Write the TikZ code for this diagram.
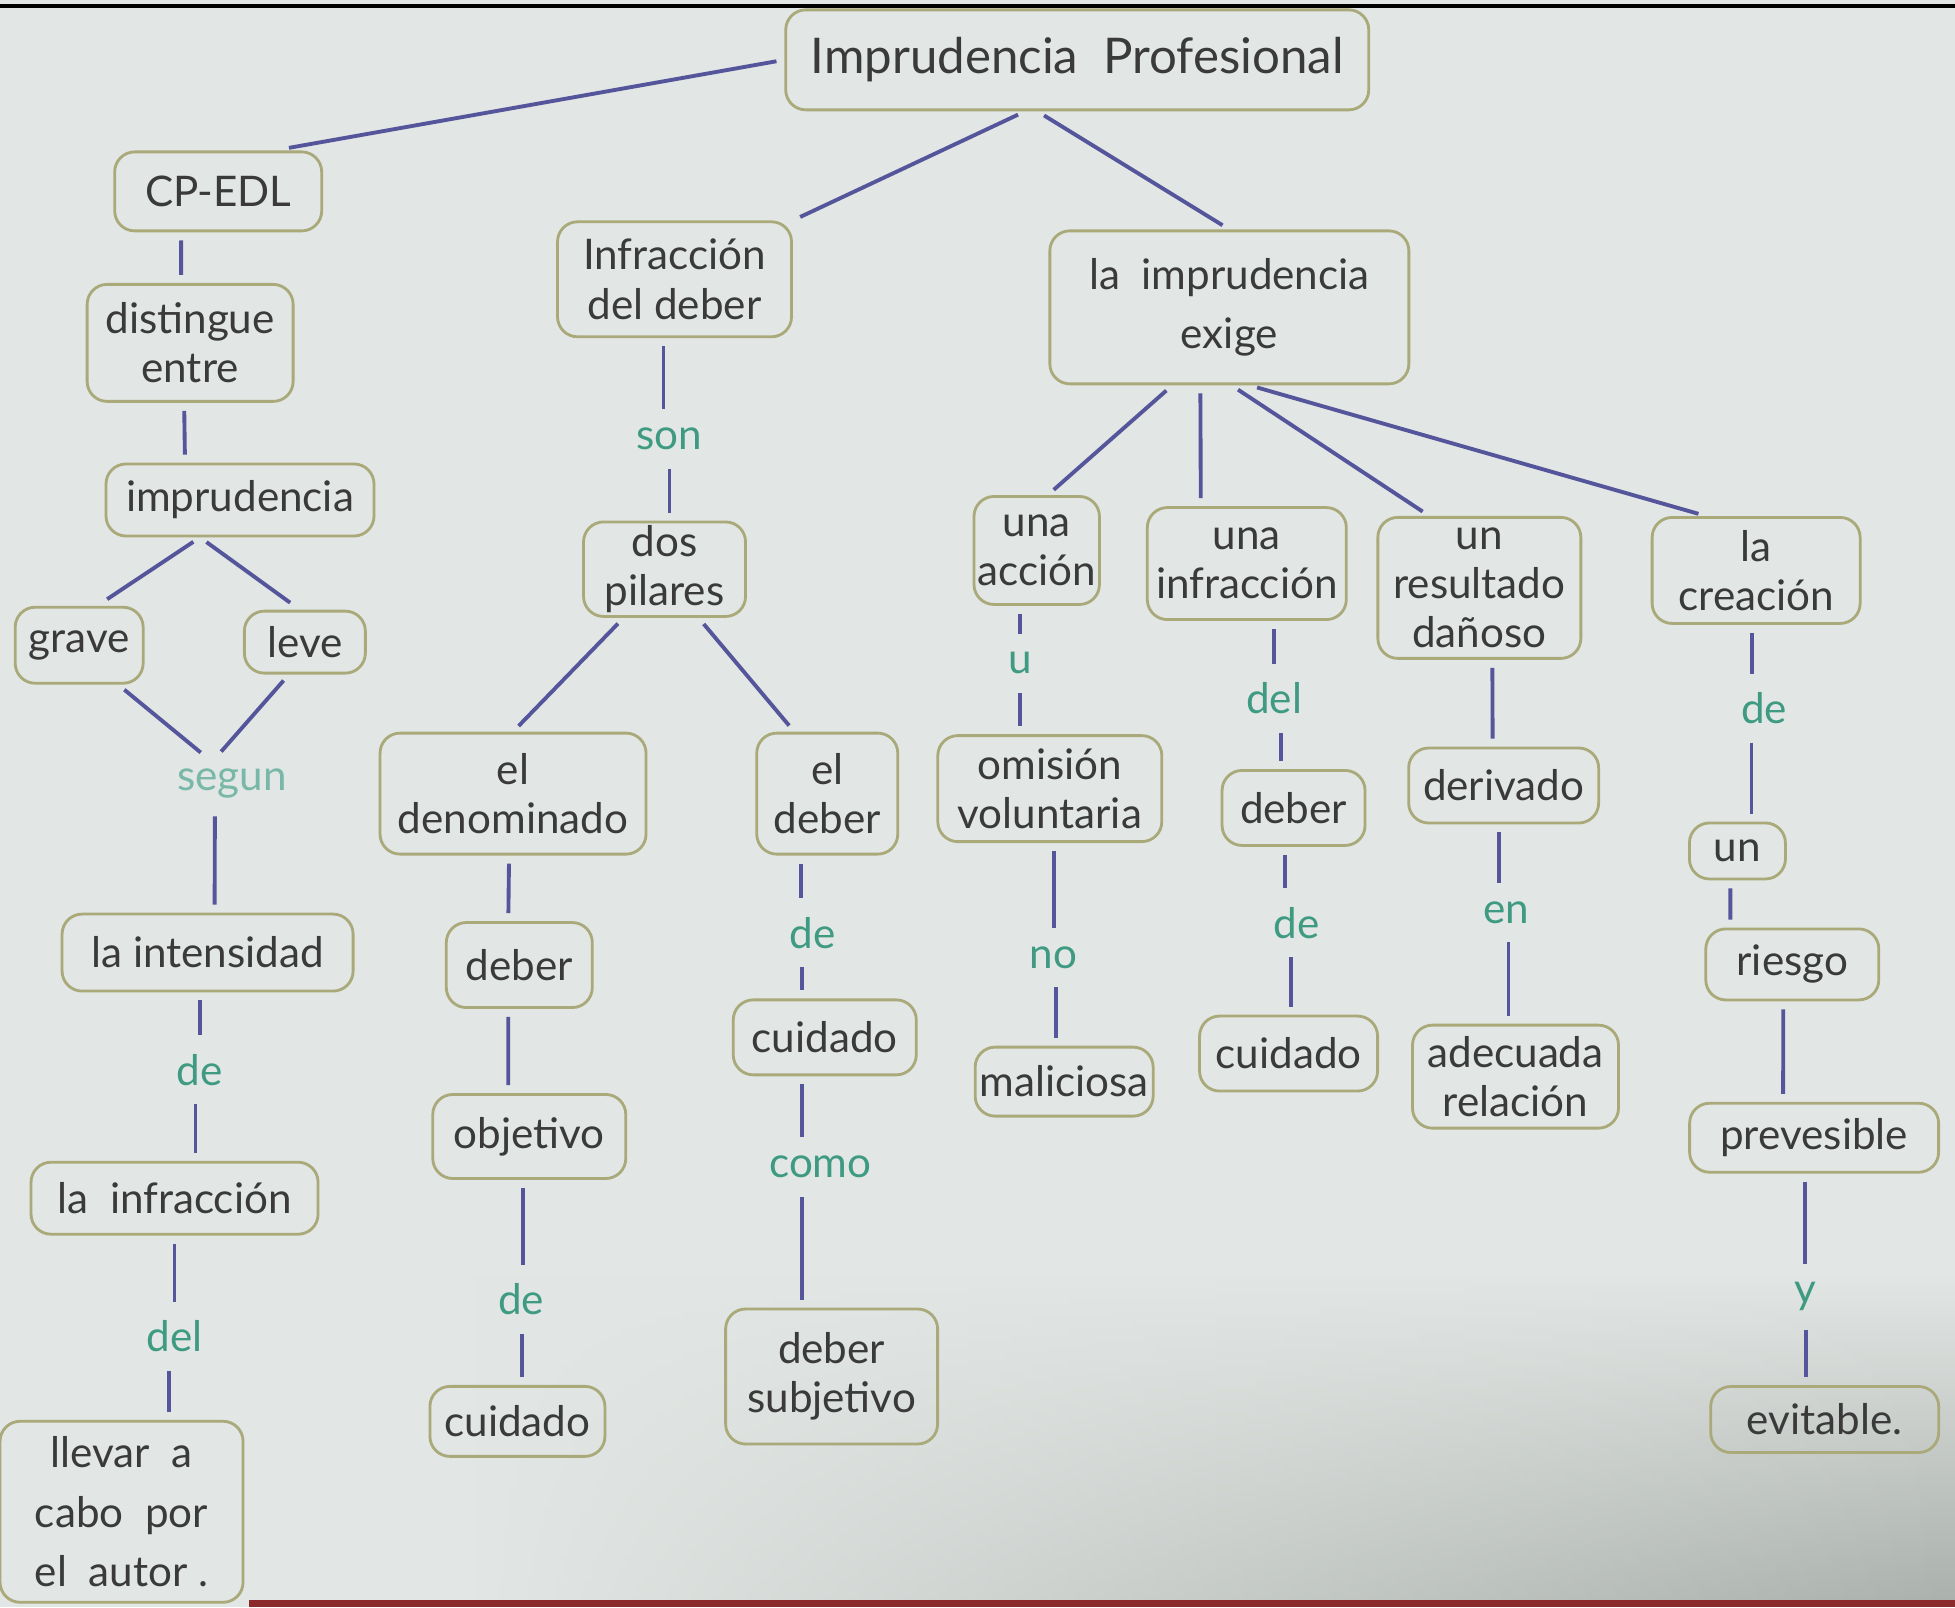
\documentclass[tikz,border=0pt]{standalone}
\usepackage{fontspec}
\setmainfont{Lato}
\usetikzlibrary{fadings}
\definecolor{paper}{HTML}{E2E6E4}
\definecolor{shade}{HTML}{ABB1AD}
\definecolor{boxline}{HTML}{A9A97A}
\definecolor{linkblue}{HTML}{55559C}
\definecolor{wordgreen}{HTML}{3F9A82}
\definecolor{ink}{HTML}{3A3A3A}
\definecolor{cloth}{HTML}{8A2A2A}

\begin{document}
\begin{tikzpicture}[x=0.12468mm,y=-0.12468mm,
	box/.style={draw=boxline,line width=0.8pt,rounded corners=2mm,align=center,text=ink,font=\fontsize{12}{14}\selectfont,inner sep=1pt},
	link/.style={draw=linkblue,line width=1.1pt,shorten <=0.8mm,shorten >=0.8mm},
	word/.style={text=wordgreen,font=\fontsize{12}{14}\selectfont,inner sep=1mm}]
	\useasboundingbox (0,0) rectangle (1568,1289);
	\fill[paper] (0,0) rectangle (1568,1289);
	\shade[top color=paper,bottom color=shade,path fading=west] (380,1020) rectangle (1568,1283);
	\fill[cloth] (200,1283) rectangle (1568,1289);
	\draw[line width=0.4mm] (0,5) -- (1568,5);

	\node[box,minimum width=58.3mm,minimum height=10mm,font=\fontsize{14}{17}\selectfont] (title) at (864,48) {Imprudencia\ \ Profesional};

	\node[box,minimum width=20.7mm,minimum height=7.9mm] (cpedl) at (175,153.5) {CP-EDL};
	\node[box,minimum width=20.6mm,minimum height=11.7mm] (distingue) at (152.5,275) {distingue\\entre};
	\node[box,minimum width=26.8mm,minimum height=7.2mm] (impru) at (192.5,401) {imprudencia};
	\node[box,minimum width=12.8mm,minimum height=7.6mm] (grave) at (63.5,517.5) {grave};
	\node[box,minimum width=12.1mm,minimum height=6.2mm] (leve) at (244.5,515) {leve};
	\node[word,text=wordgreen!70] (segun) at (186,628) {segun};
	\node[box,minimum width=29.1mm,minimum height=7.7mm] (intens) at (166.5,764) {la intensidad};
	\node[word] (de1) at (160,858) {de};
	\node[box,minimum width=28.7mm,minimum height=7.2mm] (lainfr) at (140,961) {la\ \ infracción};
	\node[word] (del1) at (140,1072) {del};
	\node[box,minimum width=24.3mm,minimum height=18.1mm,font=\fontsize{12}{17}\selectfont] (llevar) at (97.5,1212.5) {llevar\ \ a\\cabo\ \ por\\el\ \ autor .};

	\node[box,minimum width=23.4mm,minimum height=11.5mm] (infdeber) at (541,224) {Infracción\\del deber};
	\node[word] (son) at (537,352) {son};
	\node[box,minimum width=16.2mm,minimum height=9.1mm] (pilares) at (533,456.5) {dos\\pilares};
	\node[box,minimum width=26.6mm,minimum height=12.1mm] (denom) at (411.5,636.5) {el\\denominado};
	\node[box,minimum width=14.1mm,minimum height=12.1mm] (eldeber) at (663.5,636.5) {el\\deber};
	\node[box,minimum width=14.6mm,minimum height=8.5mm] (debera) at (416.5,774) {deber};
	\node[box,minimum width=19.3mm,minimum height=8.4mm] (objetivo) at (424.5,911.5) {objetivo};
	\node[word] (de3) at (418,1042) {de};
	\node[box,minimum width=17.5mm,minimum height=7mm] (cuida) at (415,1140) {cuidado};
	\node[word] (de2) at (652,748) {de};
	\node[box,minimum width=18.3mm,minimum height=7.5mm] (cuidb) at (661.5,832) {cuidado};
	\node[word] (como) at (658,936) {como};
	\node[box,minimum width=21.2mm,minimum height=13.5mm] (subj) at (667,1104) {deber\\subjetivo};

	\node[box,minimum width=35.9mm,minimum height=15.3mm,font=\fontsize{12}{17}\selectfont] (exige) at (986,246.5) {la\ \ imprudencia\\exige};
	\node[box,minimum width=11.6mm,minimum height=10.8mm] (accion) at (831.5,441.5) {una\\acción};
	\node[word] (u) at (818,532) {u};
	\node[box,minimum width=22.4mm,minimum height=10.6mm] (omision) at (842,632.5) {omisión\\voluntaria};
	\node[word] (no) at (845,768) {no};
	\node[box,minimum width=17.8mm,minimum height=6.9mm] (malic) at (853.5,867.5) {maliciosa};
	\node[box,minimum width=19.9mm,minimum height=11.2mm] (infrb) at (1000,452) {una\\infracción};
	\node[word] (del2) at (1022,560) {del};
	\node[box,minimum width=14.3mm,minimum height=7.5mm] (deberc) at (1037.5,648) {deber};
	\node[word] (de4) at (1040,740) {de};
	\node[box,minimum width=17.8mm,minimum height=7.5mm] (cuidc) at (1033.5,845) {cuidado};
	\node[box,minimum width=20.3mm,minimum height=14.1mm] (result) at (1186.5,471.5) {un\\resultado\\dañoso};
	\node[box,minimum width=19mm,minimum height=7.5mm] (deriv) at (1206,630) {derivado};
	\node[word] (en) at (1208,732) {en};
	\node[box,minimum width=20.6mm,minimum height=10.3mm] (adec) at (1215.5,863.5) {adecuada\\relación};
	\node[box,minimum width=20.8mm,minimum height=10.6mm] (creac) at (1408.5,457.5) {la\\creación};
	\node[word] (de5) at (1415,568) {de};
	\node[box,minimum width=9.6mm,minimum height=5.6mm] (un) at (1393.5,682.5) {un};
	\node[box,minimum width=17.3mm,minimum height=7.1mm] (riesgo) at (1437.5,773.5) {riesgo};
	\node[box,minimum width=24.9mm,minimum height=6.9mm] (prev) at (1455,912.5) {prevesible};
	\node[word] (y) at (1448,1040) {y};
	\node[box,minimum width=22.8mm,minimum height=6.6mm] (evit) at (1463.5,1138.5) {evitable.};

	\draw[link,shorten >=1.5mm] (title.west) -- ([xshift=5.6mm]cpedl.north);
	\draw[link] ([xshift=-5.2mm]title.south) -- (infdeber.north east);
	\draw[link] ([xshift=-4mm]title.south) -- (exige.north);

	\draw[link] ([xshift=-3.7mm]cpedl.south) -- ([xshift=-0.9mm]distingue.north);
	\draw[link] ([xshift=-0.6mm]distingue.south) -- ([xshift=-5.5mm]impru.north);
	\draw[link,shorten >=1.2mm] ([xshift=-4mm]impru.south) -- ([xshift=1.8mm]grave.north);
	\draw[link,shorten >=1.2mm] ([xshift=-4mm]impru.south) -- ([xshift=-0.5mm]leve.north);
	\draw[link] ([xshift=3.9mm]grave.south) -- ([xshift=-2.5mm]segun.north);
	\draw[link] ([xshift=-1.6mm]leve.south) -- ([xshift=-1.6mm]segun.north);
	\draw[link] ([xshift=-1.7mm]segun.south) -- ([xshift=0.7mm]intens.north);
	\draw[link] ([xshift=-0.8mm]intens.south) -- ([xshift=-0.8mm]intens.south |- de1.north);
	\draw[link] ([xshift=2.1mm]lainfr.north |- de1.south) -- ([xshift=2.1mm]lainfr.north);
	\draw[link] (lainfr.south) -- (lainfr.south |- del1.north);
	\draw[link] ([xshift=4.7mm]llevar.north |- del1.south) -- ([xshift=4.7mm]llevar.north);

	\draw[link] ([xshift=-1.1mm]infdeber.south) -- ([xshift=-1.1mm]infdeber.south |- son.north);
	\draw[link] ([xshift=0.5mm]pilares.north |- son.south) -- ([xshift=0.5mm]pilares.north);
	\draw[link] ([xshift=-4.1mm]pilares.south) -- (denom.north);
	\draw[link] ([xshift=3.4mm]pilares.south) -- ([xshift=-3.3mm]eldeber.north);
	\draw[link] ([xshift=-0.4mm]denom.south) -- ([xshift=-1.1mm]debera.north);
	\draw[link] ([xshift=-1.1mm]debera.south) -- ([xshift=-2.1mm]objetivo.north);
	\draw[link] ([xshift=-0.6mm]objetivo.south) -- ([xshift=-0.6mm]objetivo.south |- de3.north);
	\draw[link] ([xshift=0.5mm]cuida.north |- de3.south) -- ([xshift=0.5mm]cuida.north);
	\draw[link] ([xshift=-2.6mm]eldeber.south) -- ([xshift=-2.6mm]eldeber.south |- de2.north);
	\draw[link] ([xshift=-2.3mm]cuidb.north |- de2.south) -- ([xshift=-2.3mm]cuidb.north);
	\draw[link] ([xshift=-2.3mm]cuidb.south) -- ([xshift=-2.3mm]cuidb.south |- como.north);
	\draw[link] ([xshift=-3mm]subj.north |- como.south) -- ([xshift=-3mm]subj.north);

	\draw[link] ([xshift=-5.7mm]exige.south) -- ([xshift=1.1mm]accion.north);
	\draw[link] ([xshift=-2.9mm]exige.south) -- ([xshift=-4.6mm]infrb.north);
	\draw[link] ([xshift=0.2mm]exige.south) -- ([xshift=-5mm]result.north);
	\draw[link] ([xshift=2mm]exige.south) -- ([xshift=-5mm]creac.north);
	\draw[link] ([xshift=-1.7mm]accion.south) -- ([xshift=-1.7mm]accion.south |- u.north);
	\draw[link] ([xshift=-3mm]omision.north |- u.south) -- ([xshift=-3mm]omision.north);
	\draw[link] ([xshift=0.4mm]omision.south) -- ([xshift=0.4mm]omision.south |- no.north);
	\draw[link] ([xshift=-0.8mm]malic.north |- no.south) -- ([xshift=-0.8mm]malic.north);
	\draw[link] ([xshift=2.7mm]infrb.south) -- ([xshift=2.7mm]infrb.south |- del2.north);
	\draw[link] ([xshift=-1.3mm]deberc.north |- del2.south) -- ([xshift=-1.3mm]deberc.north);
	\draw[link] ([xshift=-0.9mm]deberc.south) -- ([xshift=-0.9mm]deberc.south |- de4.north);
	\draw[link] ([xshift=0.2mm]cuidc.north |- de4.south) -- ([xshift=0.2mm]cuidc.north);
	\draw[link] ([xshift=1.3mm]result.south) -- ([xshift=-1.1mm]deriv.north);
	\draw[link] ([xshift=-0.5mm]deriv.south) -- ([xshift=-0.5mm]deriv.south |- en.north);
	\draw[link] ([xshift=-0.7mm]adec.north |- en.south) -- ([xshift=-0.7mm]adec.north);
	\draw[link] ([xshift=-0.4mm]creac.south) -- ([xshift=-0.4mm]creac.south |- de5.north);
	\draw[link] ([xshift=1.4mm]un.north |- de5.south) -- ([xshift=1.4mm]un.north);
	\draw[link] ([xshift=-0.7mm]un.south) -- ([xshift=-6.2mm]riesgo.north);
	\draw[link] ([xshift=-0.9mm]riesgo.south) -- ([xshift=-3.1mm]prev.north);
	\draw[link] ([xshift=-0.9mm]prev.south) -- ([xshift=-0.9mm]prev.south |- y.north);
	\draw[link] ([xshift=-1.9mm]evit.north |- y.south) -- ([xshift=-1.9mm]evit.north);
\end{tikzpicture}
\end{document}
